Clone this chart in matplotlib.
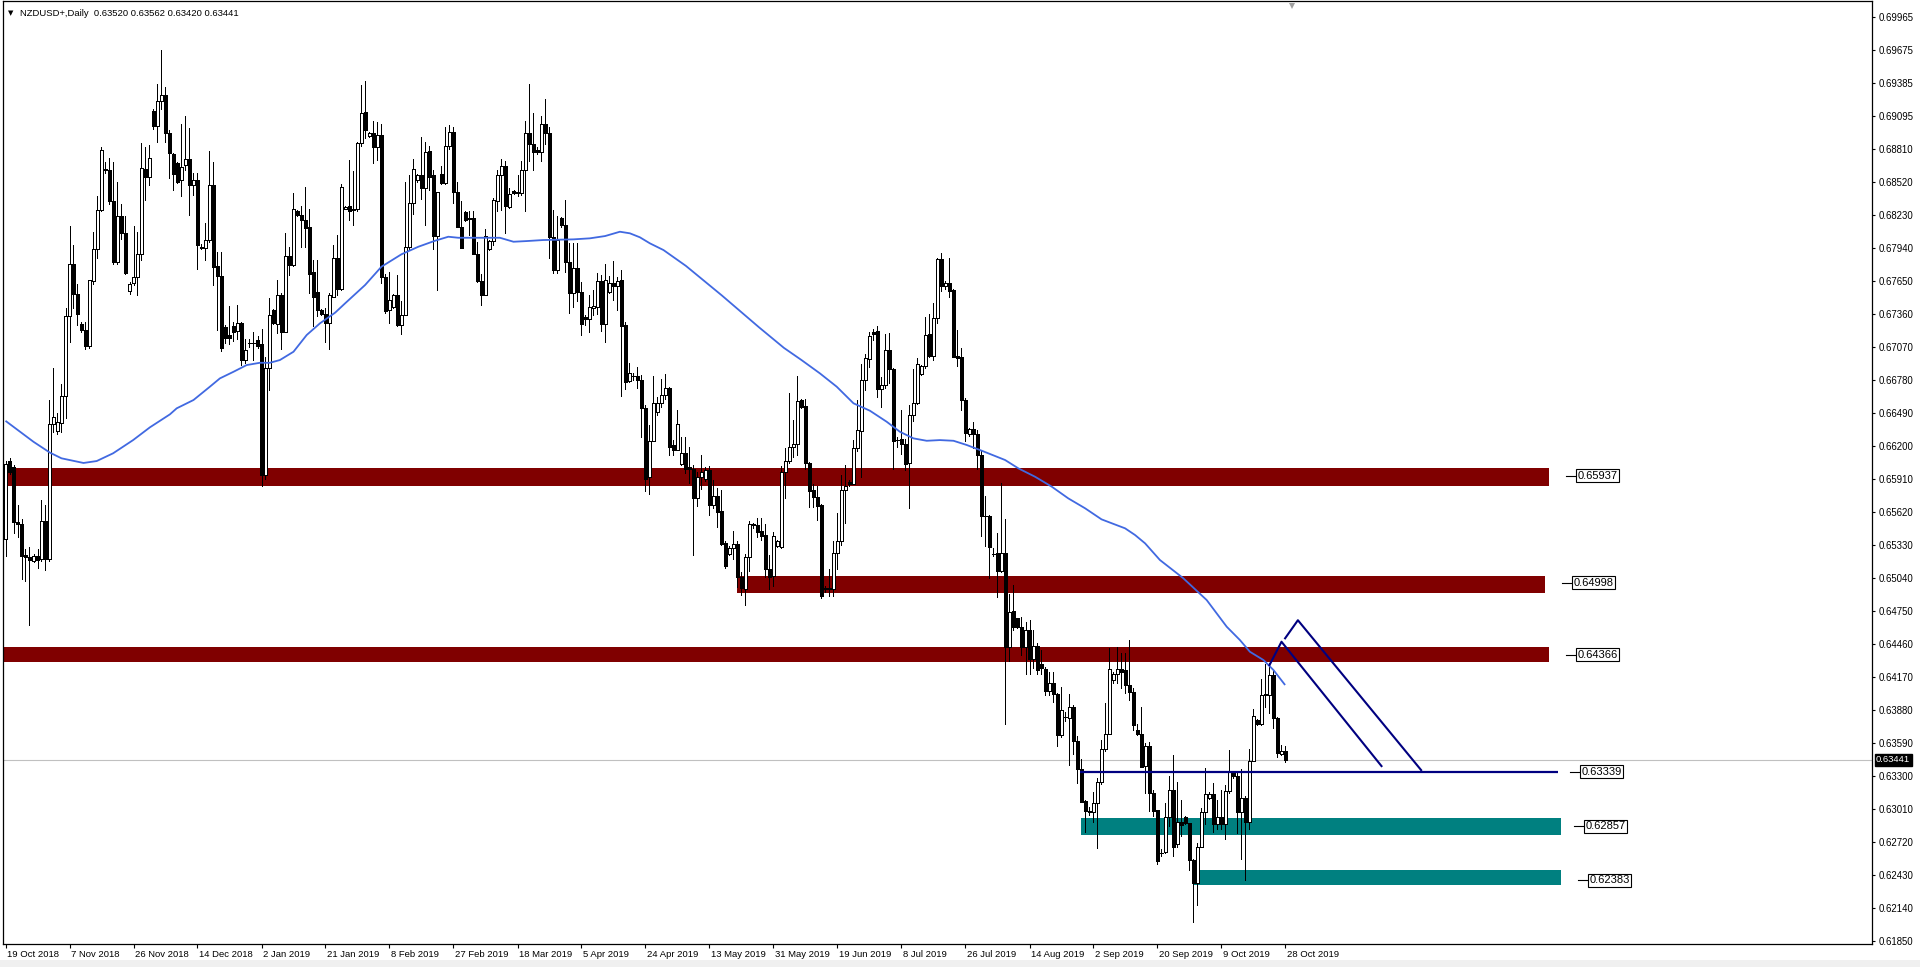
import matplotlib
matplotlib.use('Agg')
import matplotlib.pyplot as plt
from matplotlib.patches import Rectangle
import matplotlib.transforms as mtransforms
import numpy as np

plt.rcParams['font.family'] = ['Liberation Sans', 'DejaVu Sans']

# ---------------- data ----------------
title_text = "NZDUSD+,Daily  0.63520 0.63562 0.63420 0.63441"

opens = [
 0.6538, 0.6607, 0.6601, 0.6553, 0.6551, 0.6524, 0.6522, 0.6519, 0.6523, 0.6521,
 0.6554, 0.6521, 0.6639, 0.6633, 0.6640, 0.6664, 0.6734, 0.6780, 0.6753, 0.6727,
 0.6722, 0.6708, 0.6765, 0.6793, 0.6827, 0.6862, 0.6862, 0.6835, 0.6781, 0.6822,
 0.6807, 0.6756, 0.6763, 0.6768, 0.6788, 0.6863, 0.6856, 0.6914, 0.6901, 0.6923,
 0.6928, 0.6895, 0.6876, 0.6868, 0.6853, 0.6867, 0.6872, 0.6849, 0.6853, 0.6795,
 0.6794, 0.6801, 0.6849, 0.6778, 0.6769, 0.6724, 0.6717, 0.6725, 0.6721, 0.6728,
 0.6695, 0.6710, 0.6710, 0.6713, 0.6709, 0.6594, 0.6688, 0.6739, 0.6727, 0.6752,
 0.6720, 0.6787, 0.6779, 0.6826, 0.6823, 0.6818, 0.6812, 0.6773, 0.6755, 0.6739,
 0.6736, 0.6728, 0.6751, 0.6785, 0.6758, 0.6828, 0.6831, 0.6828, 0.6828, 0.6886,
 0.6913, 0.6892, 0.6895, 0.6882, 0.6893, 0.6768, 0.6739, 0.6742, 0.6752, 0.6726,
 0.6735, 0.6795, 0.6833, 0.6853, 0.6858, 0.6846, 0.6879, 0.6858, 0.6804, 0.6859,
 0.6851, 0.6883, 0.6896, 0.6843, 0.6812, 0.6825, 0.6820, 0.6820, 0.6788, 0.6765,
 0.6752, 0.6793, 0.6800, 0.6835, 0.6858, 0.6866, 0.6830, 0.6844, 0.6843, 0.6842,
 0.6862, 0.6895, 0.6885, 0.6880, 0.6878, 0.6903, 0.6895, 0.6803, 0.6774, 0.6820,
 0.6814, 0.6781, 0.6754, 0.6776, 0.6755, 0.6733, 0.6731, 0.6741, 0.6742, 0.6765,
 0.6727, 0.6755, 0.6763, 0.6760, 0.6766, 0.6726, 0.6677, 0.6681, 0.6681, 0.6678,
 0.6653, 0.6593, 0.6624, 0.6650, 0.6658, 0.6665, 0.6671, 0.6621, 0.6616, 0.6604,
 0.6614, 0.6601, 0.6600, 0.6574, 0.6593, 0.6591, 0.6599, 0.6568, 0.6576, 0.6563,
 0.6535, 0.6525, 0.6530, 0.6534, 0.6505, 0.6494, 0.6522, 0.6550, 0.6550, 0.6545,
 0.6542, 0.6512, 0.6506, 0.6532, 0.6531, 0.6597, 0.6607, 0.6619, 0.6622, 0.6660,
 0.6655, 0.6605, 0.6581, 0.6575, 0.6568, 0.6494, 0.6495, 0.6494, 0.6526, 0.6536,
 0.6581, 0.6588, 0.6586, 0.6618, 0.6633, 0.6678, 0.6696, 0.6720, 0.6721, 0.6670,
 0.6673, 0.6704, 0.6687, 0.6625, 0.6626, 0.6622, 0.6605, 0.6647, 0.6658, 0.6683,
 0.6690, 0.6718, 0.6699, 0.6732, 0.6784, 0.6760, 0.6763, 0.6757, 0.6699, 0.6698,
 0.6660, 0.6630, 0.6635, 0.6630, 0.6612, 0.6558, 0.6558, 0.6525, 0.6526, 0.6510,
 0.6526, 0.6443, 0.6475, 0.6469, 0.6461, 0.6443, 0.6458, 0.6433, 0.6444, 0.6428,
 0.6424, 0.6405, 0.6412, 0.6402, 0.6366, 0.6382, 0.6381, 0.6391, 0.6361, 0.6336,
 0.6308, 0.6299, 0.6298, 0.6306, 0.6325, 0.6354, 0.6367, 0.6414, 0.6420, 0.6424,
 0.6423, 0.6410, 0.6404, 0.6370, 0.6367, 0.6339, 0.6356, 0.6315, 0.6300, 0.6262,
 0.6263, 0.6294, 0.6318, 0.6270, 0.6290, 0.6294, 0.6289, 0.6256, 0.6236, 0.6268,
 0.6298, 0.6311, 0.6314, 0.6288, 0.6294, 0.6288, 0.6317, 0.6333, 0.6330, 0.6298,
 0.6311, 0.6290, 0.6343, 0.6379, 0.6376, 0.6402, 0.6401, 0.6419, 0.6381, 0.6349,
 0.63520]

highs = [
 0.6607, 0.6609, 0.6603, 0.6568, 0.6556, 0.6529, 0.6531, 0.6525, 0.6529, 0.6572,
 0.6568, 0.6660, 0.6688, 0.6649, 0.6674, 0.6741, 0.6813, 0.6796, 0.6762, 0.6729,
 0.6729, 0.6766, 0.6808, 0.6839, 0.6882, 0.6869, 0.6873, 0.6869, 0.6852, 0.6832,
 0.6822, 0.6764, 0.6813, 0.6808, 0.6886, 0.6882, 0.6884, 0.6916, 0.6938, 0.6968,
 0.6935, 0.6897, 0.6877, 0.6869, 0.6903, 0.6910, 0.6899, 0.6860, 0.6860, 0.6797,
 0.6816, 0.6879, 0.6869, 0.6790, 0.6790, 0.6726, 0.6743, 0.6729, 0.6744, 0.6729,
 0.6714, 0.6714, 0.6720, 0.6716, 0.6723, 0.6698, 0.6750, 0.6740, 0.6766, 0.6754,
 0.6807, 0.6795, 0.6842, 0.6827, 0.6831, 0.6847, 0.6828, 0.6783, 0.6783, 0.6740,
 0.6741, 0.6754, 0.6796, 0.6805, 0.6850, 0.6831, 0.6871, 0.6861, 0.6887, 0.6937,
 0.6940, 0.6896, 0.6905, 0.6904, 0.6903, 0.6771, 0.6773, 0.6753, 0.6770, 0.6747,
 0.6852, 0.6858, 0.6872, 0.6859, 0.6891, 0.6887, 0.6883, 0.6862, 0.6843, 0.6866,
 0.6900, 0.6902, 0.6900, 0.6852, 0.6835, 0.6826, 0.6826, 0.6826, 0.6799, 0.6771,
 0.6810, 0.6801, 0.6838, 0.6862, 0.6872, 0.6870, 0.6846, 0.6845, 0.6858, 0.6870,
 0.6905, 0.6938, 0.6912, 0.6882, 0.6910, 0.6925, 0.6900, 0.6827, 0.6822, 0.6821,
 0.6836, 0.6798, 0.6798, 0.6798, 0.6764, 0.6735, 0.6752, 0.6757, 0.6772, 0.6770,
 0.6780, 0.6769, 0.6782, 0.6768, 0.6774, 0.6729, 0.6693, 0.6684, 0.6689, 0.6682,
 0.6656, 0.6638, 0.6681, 0.6663, 0.6679, 0.6683, 0.6672, 0.6625, 0.6651, 0.6628,
 0.6628, 0.6619, 0.6603, 0.6597, 0.6612, 0.6601, 0.6602, 0.6590, 0.6583, 0.6581,
 0.6536, 0.6532, 0.6545, 0.6536, 0.6509, 0.6525, 0.6554, 0.6552, 0.6557, 0.6557,
 0.6551, 0.6524, 0.6544, 0.6537, 0.6602, 0.6618, 0.6666, 0.6643, 0.6681, 0.6661,
 0.6661, 0.6606, 0.6586, 0.6585, 0.6569, 0.6497, 0.6512, 0.6536, 0.6561, 0.6594,
 0.6603, 0.6590, 0.6625, 0.6660, 0.6692, 0.6701, 0.6720, 0.6723, 0.6725, 0.6680,
 0.6718, 0.6719, 0.6688, 0.6628, 0.6651, 0.6626, 0.6656, 0.6687, 0.6697, 0.6691,
 0.6733, 0.6736, 0.6745, 0.6785, 0.6789, 0.6765, 0.6785, 0.6758, 0.6722, 0.6706,
 0.6662, 0.6636, 0.6641, 0.6634, 0.6616, 0.6576, 0.6559, 0.6530, 0.6543, 0.6587,
 0.6556, 0.6490, 0.6498, 0.6469, 0.6470, 0.6465, 0.6467, 0.6458, 0.6447, 0.6441,
 0.6426, 0.6421, 0.6421, 0.6403, 0.6408, 0.6386, 0.6402, 0.6392, 0.6365, 0.6345,
 0.6309, 0.6303, 0.6316, 0.6328, 0.6362, 0.6394, 0.6442, 0.6421, 0.6443, 0.6438,
 0.6438, 0.6449, 0.6407, 0.6376, 0.6391, 0.6359, 0.6360, 0.6318, 0.6300, 0.6266,
 0.6306, 0.6330, 0.6348, 0.6325, 0.6309, 0.6295, 0.6289, 0.6257, 0.6271, 0.6302,
 0.6337, 0.6316, 0.6324, 0.6309, 0.6318, 0.6322, 0.6353, 0.6334, 0.6334, 0.6336,
 0.6312, 0.6354, 0.6389, 0.6380, 0.6415, 0.6428, 0.6429, 0.6422, 0.6382, 0.6357,
 0.63562]

lows = [
 0.6523, 0.6595, 0.6543, 0.6540, 0.6503, 0.6501, 0.6463, 0.6518, 0.6513, 0.6519,
 0.6511, 0.6519, 0.6632, 0.6630, 0.6632, 0.6644, 0.6711, 0.6741, 0.6726, 0.6720,
 0.6705, 0.6706, 0.6762, 0.6785, 0.6826, 0.6860, 0.6832, 0.6780, 0.6780, 0.6802,
 0.6771, 0.6753, 0.6761, 0.6752, 0.6783, 0.6836, 0.6849, 0.6898, 0.6887, 0.6916,
 0.6887, 0.6855, 0.6845, 0.6851, 0.6839, 0.6862, 0.6823, 0.6840, 0.6775, 0.6793,
 0.6783, 0.6799, 0.6761, 0.6722, 0.6703, 0.6710, 0.6709, 0.6712, 0.6714, 0.6691,
 0.6693, 0.6707, 0.6695, 0.6706, 0.6585, 0.6591, 0.6669, 0.6727, 0.6719, 0.6705,
 0.6720, 0.6770, 0.6778, 0.6822, 0.6795, 0.6795, 0.6754, 0.6725, 0.6734, 0.6735,
 0.6711, 0.6705, 0.6751, 0.6752, 0.6757, 0.6828, 0.6818, 0.6814, 0.6826, 0.6883,
 0.6890, 0.6891, 0.6868, 0.6871, 0.6763, 0.6737, 0.6728, 0.6741, 0.6725, 0.6718,
 0.6735, 0.6793, 0.6824, 0.6852, 0.6837, 0.6814, 0.6845, 0.6793, 0.6757, 0.6850,
 0.6850, 0.6881, 0.6833, 0.6812, 0.6794, 0.6817, 0.6805, 0.6788, 0.6764, 0.6744,
 0.6752, 0.6792, 0.6796, 0.6826, 0.6827, 0.6807, 0.6829, 0.6841, 0.6839, 0.6840,
 0.6826, 0.6870, 0.6862, 0.6876, 0.6870, 0.6885, 0.6785, 0.6772, 0.6772, 0.6812,
 0.6773, 0.6737, 0.6742, 0.6747, 0.6717, 0.6726, 0.6720, 0.6735, 0.6736, 0.6721,
 0.6711, 0.6754, 0.6748, 0.6739, 0.6664, 0.6670, 0.6676, 0.6678, 0.6671, 0.6628,
 0.6580, 0.6578, 0.6624, 0.6647, 0.6654, 0.6661, 0.6612, 0.6612, 0.6616, 0.6603,
 0.6596, 0.6587, 0.6524, 0.6567, 0.6582, 0.6589, 0.6559, 0.6565, 0.6549, 0.6533,
 0.6513, 0.6524, 0.6521, 0.6496, 0.6489, 0.6480, 0.6510, 0.6548, 0.6540, 0.6537,
 0.6505, 0.6494, 0.6497, 0.6531, 0.6530, 0.6574, 0.6605, 0.6610, 0.6612, 0.6653,
 0.6600, 0.6566, 0.6566, 0.6555, 0.6486, 0.6492, 0.6488, 0.6488, 0.6512, 0.6533,
 0.6552, 0.6585, 0.6586, 0.6615, 0.6593, 0.6669, 0.6689, 0.6713, 0.6663, 0.6654,
 0.6671, 0.6675, 0.6600, 0.6619, 0.6613, 0.6599, 0.6565, 0.6642, 0.6657, 0.6682,
 0.6688, 0.6698, 0.6695, 0.6728, 0.6756, 0.6758, 0.6751, 0.6698, 0.6690, 0.6651,
 0.6624, 0.6629, 0.6618, 0.6600, 0.6541, 0.6532, 0.6504, 0.6523, 0.6487, 0.6509,
 0.6376, 0.6431, 0.6458, 0.6460, 0.6436, 0.6420, 0.6420, 0.6425, 0.6420, 0.6420,
 0.6401, 0.6401, 0.6395, 0.6356, 0.6364, 0.6378, 0.6340, 0.6349, 0.6324, 0.6307,
 0.6281, 0.6296, 0.6290, 0.6267, 0.6323, 0.6352, 0.6367, 0.6412, 0.6412, 0.6407,
 0.6403, 0.6397, 0.6370, 0.6366, 0.6338, 0.6315, 0.6299, 0.6295, 0.6253, 0.6260,
 0.6262, 0.6286, 0.6260, 0.6268, 0.6277, 0.6288, 0.6247, 0.6202, 0.6217, 0.6268,
 0.6288, 0.6310, 0.6281, 0.6283, 0.6283, 0.6275, 0.6315, 0.6328, 0.6280, 0.6257,
 0.6239, 0.6283, 0.6343, 0.6375, 0.6375, 0.6391, 0.6385, 0.6372, 0.6347, 0.6348,
 0.63420]

closes = [
 0.6604, 0.6597, 0.6553, 0.6551, 0.6523, 0.6522, 0.6520, 0.6523, 0.6520, 0.6554,
 0.6521, 0.6639, 0.6645, 0.6641, 0.6664, 0.6734, 0.6780, 0.6753, 0.6736, 0.6722,
 0.6708, 0.6766, 0.6793, 0.6827, 0.6880, 0.6863, 0.6835, 0.6781, 0.6822, 0.6807,
 0.6772, 0.6762, 0.6768, 0.6788, 0.6864, 0.6856, 0.6873, 0.6901, 0.6923, 0.6928,
 0.6895, 0.6877, 0.6859, 0.6852, 0.6865, 0.6872, 0.6849, 0.6853, 0.6796, 0.6794,
 0.6801, 0.6849, 0.6777, 0.6769, 0.6706, 0.6715, 0.6715, 0.6720, 0.6728, 0.6695,
 0.6704, 0.6710, 0.6710, 0.6708, 0.6594, 0.6688, 0.6735, 0.6728, 0.6752, 0.6720,
 0.6787, 0.6779, 0.6828, 0.6823, 0.6818, 0.6811, 0.6771, 0.6751, 0.6739, 0.6736,
 0.6728, 0.6752, 0.6785, 0.6758, 0.6847, 0.6830, 0.6826, 0.6827, 0.6886, 0.6912,
 0.6897, 0.6895, 0.6882, 0.6893, 0.6768, 0.6738, 0.6748, 0.6752, 0.6726, 0.6735,
 0.6795, 0.6833, 0.6863, 0.6858, 0.6846, 0.6878, 0.6856, 0.6804, 0.6843, 0.6851,
 0.6883, 0.6896, 0.6843, 0.6812, 0.6794, 0.6818, 0.6819, 0.6788, 0.6765, 0.6752,
 0.6804, 0.6800, 0.6836, 0.6858, 0.6866, 0.6831, 0.6841, 0.6842, 0.6842, 0.6862,
 0.6895, 0.6885, 0.6878, 0.6878, 0.6903, 0.6895, 0.6803, 0.6774, 0.6801, 0.6814,
 0.6781, 0.6754, 0.6776, 0.6755, 0.6727, 0.6731, 0.6742, 0.6743, 0.6765, 0.6727,
 0.6766, 0.6763, 0.6760, 0.6765, 0.6725, 0.6676, 0.6684, 0.6681, 0.6678, 0.6653,
 0.6591, 0.6624, 0.6658, 0.6658, 0.6665, 0.6671, 0.6619, 0.6616, 0.6639, 0.6614,
 0.6600, 0.6600, 0.6574, 0.6593, 0.6597, 0.6599, 0.6568, 0.6576, 0.6562, 0.6534,
 0.6514, 0.6530, 0.6534, 0.6505, 0.6495, 0.6522, 0.6551, 0.6551, 0.6544, 0.6541,
 0.6512, 0.6505, 0.6541, 0.6536, 0.6597, 0.6607, 0.6619, 0.6622, 0.6659, 0.6654,
 0.6605, 0.6580, 0.6575, 0.6567, 0.6488, 0.6495, 0.6494, 0.6526, 0.6536, 0.6581,
 0.6585, 0.6586, 0.6618, 0.6634, 0.6678, 0.6697, 0.6716, 0.6718, 0.6670, 0.6673,
 0.6704, 0.6687, 0.6624, 0.6625, 0.6622, 0.6604, 0.6647, 0.6658, 0.6692, 0.6690,
 0.6717, 0.6699, 0.6732, 0.6784, 0.6760, 0.6763, 0.6756, 0.6698, 0.6697, 0.6660,
 0.6631, 0.6635, 0.6630, 0.6612, 0.6558, 0.6558, 0.6531, 0.6525, 0.6510, 0.6526,
 0.6443, 0.6474, 0.6461, 0.6461, 0.6443, 0.6458, 0.6433, 0.6444, 0.6423, 0.6425,
 0.6405, 0.6412, 0.6402, 0.6366, 0.6388, 0.6382, 0.6391, 0.6361, 0.6336, 0.6307,
 0.6299, 0.6298, 0.6306, 0.6325, 0.6354, 0.6367, 0.6424, 0.6420, 0.6424, 0.6421,
 0.6410, 0.6404, 0.6375, 0.6367, 0.6338, 0.6356, 0.6315, 0.6299, 0.6255, 0.6262,
 0.6294, 0.6318, 0.6268, 0.6290, 0.6287, 0.6289, 0.6256, 0.6236, 0.6268, 0.6298,
 0.6314, 0.6314, 0.6288, 0.6294, 0.6288, 0.6317, 0.6334, 0.6330, 0.6298, 0.6311,
 0.6290, 0.6343, 0.6383, 0.6376, 0.6401, 0.6401, 0.6419, 0.6381, 0.6350, 0.6352,
 0.63441]

# moving average (bar index, price)
ma_idx = [0, 7, 11.1, 14, 19.5, 22.8, 26.9, 31.9, 36.1, 41.1, 42.8, 47, 51.1, 53.6, 57,
          60.3, 63.6, 66.1, 68.6, 72, 75.3, 78.6, 82.4, 84.9, 89.9, 94, 99, 103.2, 107.4,
          110.7, 113.2, 123.6, 127, 130.3, 134.4, 142, 146.1, 149.9, 153.6, 156.1, 158.6,
          161.1, 164.5, 170.1, 179.1, 188.4, 194.6, 199, 203.6, 207.8, 212, 216.1, 220.3,
          223.6, 227, 230.3, 233.6, 237, 240.3, 243.6, 247.4, 249.9, 253.2, 257.4, 261.6,
          265.7, 269.9, 274, 276.6, 279.9, 282.4, 284.9, 288.6, 294.4, 300.3, 305.3, 308.6,
          311.1, 314.5, 317, 319.9]
ma_val = [0.66419, 0.66235, 0.66140, 0.66090, 0.66049, 0.66066, 0.66134, 0.66250, 0.66362,
          0.66476, 0.66529, 0.66602, 0.66719, 0.66792, 0.66850, 0.66909, 0.66929, 0.66929,
          0.66953, 0.67026, 0.67173, 0.67275, 0.67369, 0.67451, 0.67612, 0.67773, 0.67882,
          0.67948, 0.68001, 0.68036, 0.68027, 0.68027, 0.67992, 0.67998, 0.68007, 0.68013,
          0.68022, 0.68042, 0.68080, 0.68066, 0.68031, 0.67978, 0.67919, 0.67780, 0.67520,
          0.67240, 0.67060, 0.66953, 0.66836, 0.66719, 0.66573, 0.66508, 0.66411, 0.66323,
          0.66265, 0.66244, 0.66250, 0.66244, 0.66207, 0.66163, 0.66110, 0.66075, 0.66002,
          0.65928, 0.65840, 0.65738, 0.65651, 0.65554, 0.65519, 0.65475, 0.65416, 0.65343,
          0.65197, 0.65038, 0.64845, 0.64611, 0.64494, 0.64391, 0.64318, 0.64230, 0.64099]

date_labels = ["19 Oct 2018", "7 Nov 2018", "26 Nov 2018", "14 Dec 2018", "2 Jan 2019",
               "21 Jan 2019", "8 Feb 2019", "27 Feb 2019", "18 Mar 2019", "5 Apr 2019",
               "24 Apr 2019", "13 May 2019", "31 May 2019", "19 Jun 2019", "8 Jul 2019",
               "26 Jul 2019", "14 Aug 2019", "2 Sep 2019", "20 Sep 2019", "9 Oct 2019",
               "28 Oct 2019"]
date_label_bars = [16 * k for k in range(len(date_labels))]

price_ticks = [0.69965, 0.69675, 0.69385, 0.69095, 0.68810, 0.68520, 0.68230, 0.67940,
               0.67650, 0.67360, 0.67070, 0.66780, 0.66490, 0.66200, 0.65910, 0.65620,
               0.65330, 0.65040, 0.64750, 0.64460, 0.64170, 0.63880, 0.63590, 0.63300,
               0.63010, 0.62720, 0.62430, 0.62140, 0.61850]

current_price = 0.63441

# zones: (low, high)
red_zone_low = [0.65849, 0.64907, 0.64303]
red_zone_high = [0.66005, 0.65056, 0.64432]
teal_zone_low = [0.62781, 0.62342]
teal_zone_high = [0.62930, 0.62474]
support_level = 0.63339
zone_label_values = [0.65937, 0.64998, 0.64366, 0.63339, 0.62857, 0.62383]

# projection lines (bar, price)
inner_line_bar = [316.0, 319.0, 344.0]
inner_line_price = [0.64274, 0.64479, 0.63387]
outer_line_bar = [319.9, 323.1, 353.9]
outer_line_price = [0.64509, 0.64668, 0.63352]

# ---------------- figure ----------------
W, H = 1920, 967
fig = plt.figure(figsize=(W / 100, H / 100), dpi=100, facecolor='white')
ax_l, ax_r, ax_t, ax_b = 3, 1872, 1, 944
ax = fig.add_axes([ax_l / W, (H - ax_b) / H, (ax_r - ax_l) / W, (ax_b - ax_t) / H])
ax.set_facecolor('white')

px = 4.0  # pixels per bar
x0px = 5.5
ax.set_xlim((ax_l - x0px) / px, (ax_r - x0px) / px)
ppu = 11386.0
p_top = 0.69965 + (17.1 - ax_t) / ppu
p_bot = p_top - (ax_b - ax_t) / ppu
ax.set_ylim(p_bot, p_top)

def bx(pxv):
    return (pxv - x0px) / px

# zones (background)
red = '#800000'
teal = '#008080'
red_x = [(bx(-10), bx(1549)), (bx(737), bx(1545)), (bx(-10), bx(1549))]
for (lo, hi), (xa, xb) in zip(zip(red_zone_low, red_zone_high), red_x):
    ax.add_patch(Rectangle((xa, lo), xb - xa, hi - lo, facecolor=red, edgecolor='none', zorder=1))
teal_x = [(bx(1081), bx(1561)), (bx(1193), bx(1561))]
for (lo, hi), (xa, xb) in zip(zip(teal_zone_low, teal_zone_high), teal_x):
    ax.add_patch(Rectangle((xa, lo), xb - xa, hi - lo, facecolor=teal, edgecolor='none', zorder=1))

# current price line
ax.axhline(current_price, color='#c0c0c0', lw=0.8, zorder=1.5)

# candles
o = np.array(opens); h = np.array(highs); l = np.array(lows); c = np.array(closes)
xs = np.arange(len(o))
top = np.maximum.reduce([h, o, c]); bot = np.minimum.reduce([l, o, c])
ax.vlines(xs, bot, top, color='black', lw=0.72, zorder=3, antialiased=False)
up = c >= o
bb = np.minimum(o, c); bh = np.abs(c - o)
ax.bar(xs[up], bh[up], bottom=bb[up], width=0.62, facecolor='white', edgecolor='black',
       linewidth=0.72, zorder=4, antialiased=False)
ax.bar(xs[~up], bh[~up], bottom=bb[~up], width=0.62, facecolor='black', edgecolor='black',
       linewidth=0.72, zorder=4, antialiased=False)

# moving average
ax.plot(ma_idx, ma_val, color='#4169E1', lw=1.3, zorder=5, solid_capstyle='butt')

# support line and projection lines
navy = '#000080'
ax.hlines(support_level, bx(1080), bx(1558), color=navy, lw=1.6, zorder=6)
ax.plot(inner_line_bar, inner_line_price, color=navy, lw=1.5, zorder=6)
ax.plot(outer_line_bar, outer_line_price, color=navy, lw=1.5, zorder=6)

# zone labels
box_left_px = [1576, 1572, 1576, 1580, 1584, 1588]
for val, bl in zip(zone_label_values, box_left_px):
    xb_ = bx(bl)
    ax.plot([xb_ - 2.5, xb_], [val, val], color='black', lw=0.8, zorder=7, clip_on=False)
    ax.text(xb_ + 0.3, val, f"{val:.5f}", fontsize=8, va='center', ha='left', zorder=8,
            bbox=dict(boxstyle='square,pad=0.12', facecolor='white', edgecolor='black', lw=0.8))

# chart shift marker
ax.plot([bx(1292)], [p_top - 5 / ppu], marker='v', color='#a0a0a0', ms=5, zorder=9,
        clip_on=False, markeredgewidth=0)

# axes styling
for s in ax.spines.values():
    s.set_color('black'); s.set_linewidth(0.9)
ax.yaxis.tick_right()
ax.set_yticks(price_ticks)
ax.set_yticklabels([f"{v:.5f}" for v in price_ticks], fontsize=6.9)
ax.tick_params(axis='y', which='both', right=True, left=False, direction='out', length=2.5,
               width=0.8, pad=2, colors='black')
ax.set_xticks(date_label_bars)
ax.set_xticklabels(date_labels, fontsize=6.8, ha='left')
ax.tick_params(axis='x', which='both', bottom=True, top=False, direction='out', length=3,
               width=0.8, pad=1.5, colors='black')
offset = mtransforms.ScaledTranslation(1.5 / 100, 0, fig.dpi_scale_trans)
for lab in ax.get_xticklabels():
    lab.set_transform(lab.get_transform() + offset)

# current price tag
trans = mtransforms.blended_transform_factory(ax.transAxes, ax.transData)
ax.text(1.0022, current_price, f"{current_price:.5f}", transform=trans, fontsize=6.8,
        color='white', va='center', ha='left', zorder=10, clip_on=False,
        bbox=dict(boxstyle='square,pad=0.15', facecolor='black', edgecolor='black'))

# title
fig.text(8 / W, 1 - 13.5 / H, "\u25BC", fontsize=5, family='DejaVu Sans', va='center', ha='left')
fig.text(20 / W, 1 - 13.5 / H, title_text, fontsize=6.8, va='center', ha='left', color='black')

# bottom grey strip
fig.patches.append(Rectangle((0, 0), 1, 7 / H, transform=fig.transFigure, facecolor='#f0f0f0',
                             edgecolor='none', zorder=-1))

fig.savefig('out.png', dpi=100, facecolor='white')
